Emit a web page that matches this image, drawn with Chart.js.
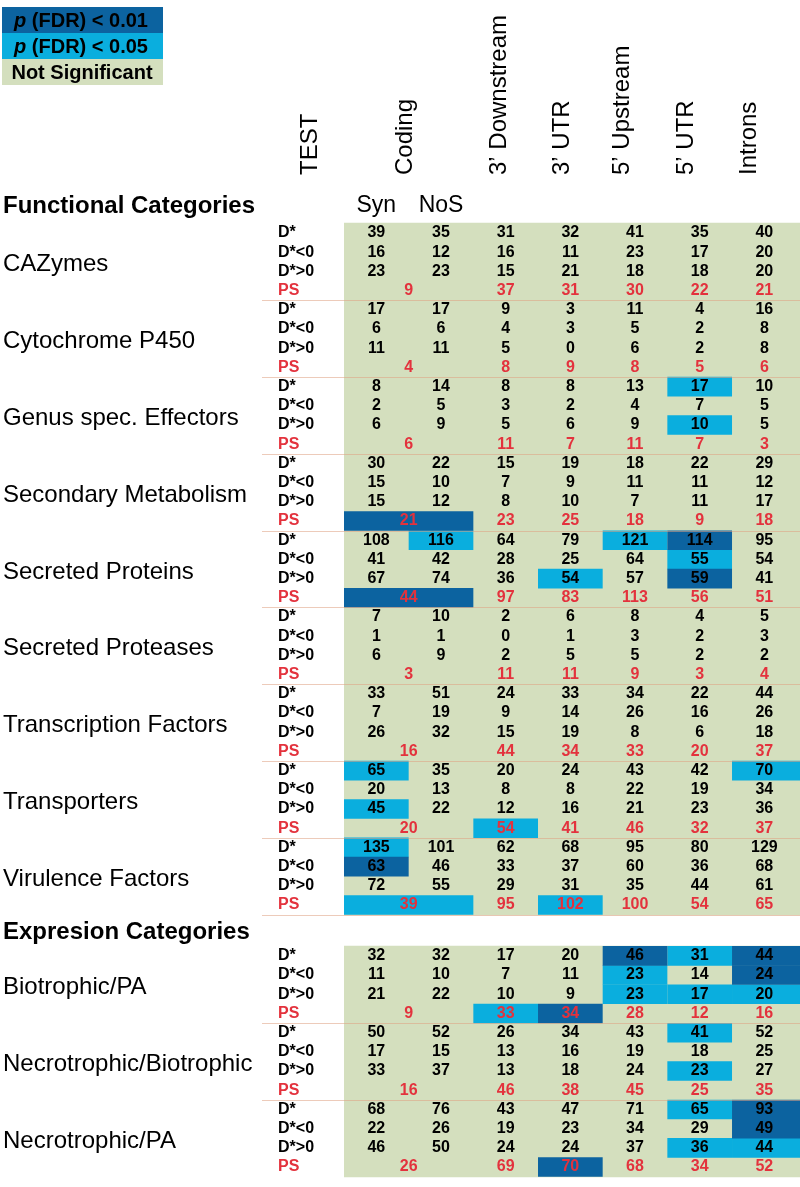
<!DOCTYPE html>
<html>
<head>
<meta charset="utf-8">
<title>D* tests by functional and expression categories</title>
<script src="https://cdn.jsdelivr.net/npm/chart.js@4.4.0/dist/chart.umd.min.js"></script>
<style>
  html, body { margin: 0; padding: 0; background: #fff; }
  canvas { display: block; }
</style>
</head>
<body>
<canvas id="tableChart" width="800" height="1187"></canvas>
<script>
const columns = ['TEST', 'Coding', '3’ Downstream', '3’ UTR', '5’ Upstream', '5’ UTR', 'Introns'];
const codingSub = ['Syn', 'NoS'];
const tests = ['D*', 'D*<0', 'D*>0', 'PS'];
const functionalCategories = ['CAZymes', 'Cytochrome P450', 'Genus spec. Effectors', 'Secondary Metabolism',
  'Secreted Proteins', 'Secreted Proteases', 'Transcription Factors', 'Transporters', 'Virulence Factors'];
const expressionCategories = ['Biotrophic/PA', 'Necrotrophic/Biotrophic', 'Necrotrophic/PA'];
const legendLabels = ['(FDR) < 0.01', '(FDR) < 0.05', 'Not Significant'];

// Syn, NoS, 3' Downstream, 3' UTR, 5' Upstream, 5' UTR, Introns
const dStar = [
  [39, 35, 31, 32, 41, 35, 40],
  [17, 17, 9, 3, 11, 4, 16],
  [8, 14, 8, 8, 13, 17, 10],
  [30, 22, 15, 19, 18, 22, 29],
  [108, 116, 64, 79, 121, 114, 95],
  [7, 10, 2, 6, 8, 4, 5],
  [33, 51, 24, 33, 34, 22, 44],
  [65, 35, 20, 24, 43, 42, 70],
  [135, 101, 62, 68, 95, 80, 129],
  [32, 32, 17, 20, 46, 31, 44],
  [50, 52, 26, 34, 43, 41, 52],
  [68, 76, 43, 47, 71, 65, 93]
];
const dNeg = [
  [16, 12, 16, 11, 23, 17, 20],
  [6, 6, 4, 3, 5, 2, 8],
  [2, 5, 3, 2, 4, 7, 5],
  [15, 10, 7, 9, 11, 11, 12],
  [41, 42, 28, 25, 64, 55, 54],
  [1, 1, 0, 1, 3, 2, 3],
  [7, 19, 9, 14, 26, 16, 26],
  [20, 13, 8, 8, 22, 19, 34],
  [63, 46, 33, 37, 60, 36, 68],
  [11, 10, 7, 11, 23, 14, 24],
  [17, 15, 13, 16, 19, 18, 25],
  [22, 26, 19, 23, 34, 29, 49]
];
const dPos = [
  [23, 23, 15, 21, 18, 18, 20],
  [11, 11, 5, 0, 6, 2, 8],
  [6, 9, 5, 6, 9, 10, 5],
  [15, 12, 8, 10, 7, 11, 17],
  [67, 74, 36, 54, 57, 59, 41],
  [6, 9, 2, 5, 5, 2, 2],
  [26, 32, 15, 19, 8, 6, 18],
  [45, 22, 12, 16, 21, 23, 36],
  [72, 55, 29, 31, 35, 44, 61],
  [21, 22, 10, 9, 23, 17, 20],
  [33, 37, 13, 18, 24, 23, 27],
  [46, 50, 24, 24, 37, 36, 44]
];
// Coding, 3' Downstream, 3' UTR, 5' Upstream, 5' UTR, Introns
const ps = [
  [9, 37, 31, 30, 22, 21],
  [4, 8, 9, 8, 5, 6],
  [6, 11, 7, 11, 7, 3],
  [21, 23, 25, 18, 9, 18],
  [44, 97, 83, 113, 56, 51],
  [3, 11, 11, 9, 3, 4],
  [16, 44, 34, 33, 20, 37],
  [20, 54, 41, 46, 32, 37],
  [39, 95, 102, 100, 54, 65],
  [9, 33, 34, 28, 12, 16],
  [16, 46, 38, 45, 25, 35],
  [26, 69, 70, 68, 34, 52]
];

// 0 = not significant, 1 = p(FDR) < 0.05, 2 = p(FDR) < 0.01
const sigDStar = ['0000000', '0000000', '0000010', '0000000', '0100120', '0000000',
  '0000000', '1000001', '1000000', '0000212', '0000010', '0000012'];
const sigDNeg = ['0000000', '0000000', '0000000', '0000000', '0000010', '0000000',
  '0000000', '0000000', '2000000', '0000102', '0000000', '0000002'];
const sigDPos = ['0000000', '0000000', '0000010', '0000000', '0001020', '0000000',
  '0000000', '1000000', '0000000', '0000111', '0000010', '0000011'];
const sigPS = ['000000', '000000', '000000', '200000', '200000', '000000',
  '000000', '010000', '101000', '012000', '000000', '002000'];

const DARK = '#0c63a0';
const LIGHT = '#0aaede';
const GREEN = '#d4dfbe';
const RED = '#e3323d';
const FONT = '"Liberation Sans", Arial, sans-serif';

const COL_W = 64.67;
const LEFT = 344;
const ROW_H = 19.2;
const FIRST_ROW = 233;
const EXPR_START = 37.65;
const X_END = (800 - LEFT) / COL_W;

const allCategories = functionalCategories.concat(expressionCategories);
const testRows = [dStar, dNeg, dPos];
const testSig = [sigDStar, sigDNeg, sigDPos];

function rowPos(gi, r) {
  const nf = functionalCategories.length;
  return gi < nf ? gi * 4 + r : EXPR_START + (gi - nf) * 4 + r;
}
const colEnd = c => (c === codingSub.length + columns.length - 3 ? X_END : c + 1);

const greenCells = [];
const lightCells = [];
const darkCells = [];
allCategories.forEach((name, gi) => {
  tests.forEach((t, r) => greenCells.push({ x: [0, X_END], y: rowPos(gi, r) }));
  testSig.forEach((sig, r) => {
    sig[gi].split('').forEach((s, c) => {
      const cell = { x: [c, colEnd(c)], y: rowPos(gi, r) };
      if (s === '1') lightCells.push(cell);
      if (s === '2') darkCells.push(cell);
    });
  });
  sigPS[gi].split('').forEach((s, c) => {
    const cell = c === 0 ? { x: [0, 2], y: rowPos(gi, 3) } : { x: [c + 1, colEnd(c + 1)], y: rowPos(gi, 3) };
    if (s === '1') lightCells.push(cell);
    if (s === '2') darkCells.push(cell);
  });
});

const headerX = [310, 405, 499, 562, 622, 686, 749];

const tableText = {
  id: 'tableText',
  afterDatasetsDraw(chart) {
    const { ctx, scales: { x, y } } = chart;
    ctx.save();

    // legend
    const legendColors = [DARK, LIGHT, GREEN];
    legendColors.forEach((col, i) => {
      ctx.fillStyle = col;
      ctx.fillRect(2, 7 + i * 26, 161, 26);
    });
    ctx.fillStyle = '#000';
    ctx.textBaseline = 'middle';
    legendLabels.forEach((lab, i) => {
      const cy = 21 + i * 26;
      if (i < 2) {
        ctx.font = 'italic bold 20px ' + FONT;
        const pw = ctx.measureText('p ').width;
        ctx.font = 'bold 20px ' + FONT;
        const lw = ctx.measureText(lab).width;
        const sx = 81 - (pw + lw) / 2;
        ctx.textAlign = 'left';
        ctx.font = 'italic bold 20px ' + FONT;
        ctx.fillText('p', sx, cy);
        ctx.font = 'bold 20px ' + FONT;
        ctx.fillText(lab, sx + pw, cy);
      } else {
        ctx.font = 'bold 20px ' + FONT;
        ctx.textAlign = 'center';
        ctx.fillText(lab, 82, cy);
      }
    });

    // rotated column headers
    ctx.font = '24px ' + FONT;
    ctx.textAlign = 'left';
    columns.forEach((lab, i) => {
      ctx.save();
      ctx.translate(headerX[i], 175);
      ctx.rotate(-Math.PI / 2);
      ctx.fillText(lab, 0, 0);
      ctx.restore();
    });

    // section titles and coding sub-headers
    ctx.font = 'bold 24px ' + FONT;
    ctx.fillText('Functional Categories', 3, 206);
    const gapMid = (y.getPixelForValue(rowPos(functionalCategories.length - 1, 3)) +
      y.getPixelForValue(rowPos(functionalCategories.length, 0))) / 2;
    ctx.fillText('Expresion Categories', 3, gapMid + 2);
    ctx.font = '23px ' + FONT;
    ctx.textAlign = 'center';
    codingSub.forEach((lab, c) => ctx.fillText(lab, x.getPixelForValue(c + 0.5), 206));

    // separators
    ctx.strokeStyle = 'rgba(222,160,130,0.55)';
    ctx.lineWidth = 1;
    allCategories.forEach((name, gi) => {
      if (gi === allCategories.length - 1) return;
      const ly = Math.round(y.getPixelForValue(rowPos(gi, 3) + 0.5)) + 0.5;
      ctx.beginPath();
      ctx.moveTo(262, ly);
      ctx.lineTo(800, ly);
      ctx.stroke();
    });

    allCategories.forEach((name, gi) => {
      const midY = (y.getPixelForValue(rowPos(gi, 0)) + y.getPixelForValue(rowPos(gi, 3))) / 2;
      ctx.font = '24px ' + FONT;
      ctx.textAlign = 'left';
      ctx.fillStyle = '#000';
      ctx.fillText(name, 3, midY + 3);

      ctx.font = 'bold 16px ' + FONT;
      tests.forEach((t, r) => {
        ctx.fillStyle = r === 3 ? RED : '#000';
        ctx.fillText(t, 278, y.getPixelForValue(rowPos(gi, r)));
      });

      ctx.textAlign = 'center';
      ctx.fillStyle = '#000';
      testRows.forEach((rows, r) => {
        rows[gi].forEach((v, c) => {
          ctx.fillText(String(v), x.getPixelForValue(c + 0.5), y.getPixelForValue(rowPos(gi, r)));
        });
      });
      ctx.fillStyle = RED;
      ps[gi].forEach((v, c) => {
        const cx = c === 0 ? 1 : c + 1.5;
        ctx.fillText(String(v), x.getPixelForValue(cx), y.getPixelForValue(rowPos(gi, 3)));
      });
    });

    ctx.restore();
  }
};

const cellStyle = {
  borderWidth: 0,
  borderSkipped: false,
  grouped: false,
  categoryPercentage: 1
};

new Chart(document.getElementById('tableChart'), {
  type: 'bar',
  data: {
    datasets: [
      { ...cellStyle, label: 'Not Significant', data: greenCells, backgroundColor: GREEN, barPercentage: 1.06, order: 3 },
      { ...cellStyle, label: 'p (FDR) < 0.05', data: lightCells, backgroundColor: LIGHT, barPercentage: 1.02, order: 2 },
      { ...cellStyle, label: 'p (FDR) < 0.01', data: darkCells, backgroundColor: DARK, barPercentage: 1.02, order: 1 }
    ]
  },
  options: {
    indexAxis: 'y',
    responsive: false,
    animation: false,
    layout: { padding: 0 },
    plugins: {
      legend: { display: false },
      tooltip: { enabled: false }
    },
    scales: {
      x: {
        type: 'linear',
        display: false,
        bounds: 'data',
        offset: false,
        min: -LEFT / COL_W,
        max: X_END
      },
      y: {
        type: 'linear',
        display: false,
        bounds: 'data',
        offset: false,
        grid: { offset: false },
        reverse: true,
        min: -FIRST_ROW / ROW_H,
        max: (1187 - FIRST_ROW) / ROW_H,
        ticks: { stepSize: 10 }
      }
    }
  },
  plugins: [tableText]
});
</script>
</body>
</html>
